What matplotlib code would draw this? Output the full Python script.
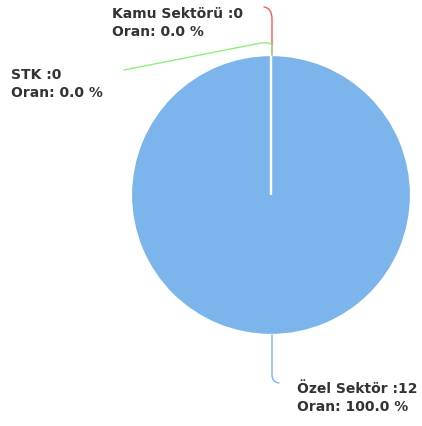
import numpy as np
import matplotlib.pyplot as plt
from matplotlib.path import Path
from matplotlib.patches import PathPatch

# data
categories = ['Kamu Sektörü', 'STK', 'Özel Sektör']
counts = [0, 0, 12]
colors = ['#f45b5b', '#90ed7d', '#7cb5ec']

total = float(sum(counts))
shares = [100.0 * c / total for c in counts]

W, H = 422, 427
fig = plt.figure(figsize=(W / 100, H / 100), dpi=100)
ax = fig.add_axes([0, 0, 1, 1])

# pie centre at pixel (271, 196), radius 140 px
cx, cy, R = 271, 196, 140


def px(x, y):
    # pixel (from top-left) -> data coords
    return (x - cx) / R, (cy - y) / R


wedges, _ = ax.pie(counts, colors=colors, startangle=90, counterclock=False,
                   radius=1, wedgeprops=dict(edgecolor='white', linewidth=1.6))

# zero slices drawn on top so their white edge shows
for w in wedges:
    w.set_zorder(2 if w.theta1 == w.theta2 else 1)

ax.set_xlim(-cx / R, (W - cx) / R)
ax.set_ylim(-(H - cy) / R, cy / R)
ax.set_aspect('auto')
ax.axis('off')


def anchor(w):
    ang = np.deg2rad((w.theta1 + w.theta2) / 2)
    return np.cos(ang), np.sin(ang)


def connector(pts, color, z):
    codes = [Path.MOVETO, Path.LINETO, Path.CURVE3, Path.CURVE3]
    while len(codes) < len(pts):
        codes.append(Path.LINETO)
    ax.add_patch(PathPatch(Path(pts, codes), fill=False, edgecolor=color,
                           lw=1.0, zorder=z, capstyle='round'))


u = 1.0 / R
# Kamu Sektörü: straight up, then curl to the left
ax0, ay0 = anchor(wedges[0])
connector([(ax0 + 1 * u, ay0), (ax0 + 1 * u, ay0 + 36 * u), (ax0 + 1 * u, ay0 + 47 * u),
           (ax0 - 7 * u, ay0 + 48 * u)], colors[0], 3)
# STK: short vertical, then off to the left
ax1, ay1 = anchor(wedges[1])
connector([(ax1 + 1 * u, ay1), (ax1 + 1 * u, ay1 + 9 * u), (ax1 + 1 * u, ay1 + 13 * u),
           (ax1 - 10 * u, ay1 + 12 * u), (ax1 - 147 * u, ay1 - 15 * u)], colors[1], 4)
# Özel Sektör: down, then curl to the right
ax2, ay2 = anchor(wedges[2])
connector([(ax2 + 1 * u, ay2), (ax2 + 1 * u, ay2 - 40 * u), (ax2 + 1 * u, ay2 - 47 * u),
           (ax2 + 8 * u, ay2 - 48 * u)], colors[2], 3)

# labels
label_pos = [(112, 18), (11, 79), (297, 393)]
font = dict(color='#333333', fontsize=10, fontweight='bold', family='DejaVu Sans',
            ha='left', va='baseline')
for name, c, s, (lx, ly) in zip(categories, counts, shares, label_pos):
    ax.text(*px(lx, ly), '%s :%d' % (name, c), **font)
    ax.text(*px(lx, ly + 18), 'Oran: %.1f %%' % s, **font)

fig.savefig('out.png', dpi=100, facecolor='white')
